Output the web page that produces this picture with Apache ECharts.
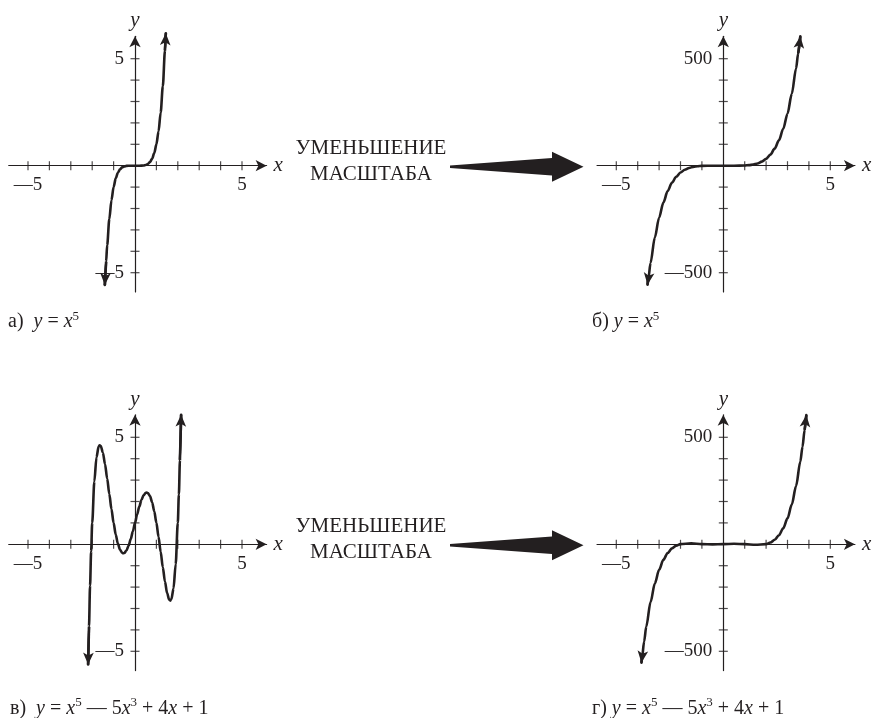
<!DOCTYPE html>
<html>
<head>
<meta charset="utf-8">
<title>Уменьшение масштаба</title>
<script src="https://cdn.jsdelivr.net/npm/echarts@6/dist/echarts.min.js"></script>
<style>
  html, body { margin: 0; padding: 0; background: #ffffff; }
  #chart { width: 875px; height: 718px; }
</style>
</head>
<body>
<div id="chart"></div>
<script>
// ---- data -------------------------------------------------------------
// tick positions and labelled ticks
const xTicks = [-5, -4, -3, -2, -1, 1, 2, 3, 4, 5];
const yTicksSmall = [-5, -4, -3, -2, -1, 1, 2, 3, 4, 5];
const yTicksLarge = [-500, -400, -300, -200, -100, 100, 200, 300, 400, 500];
const xLabels = [-5, 5];
const yLabelsSmall = [-5, 5];
const yLabelsLarge = [-500, 500];

// а) y = x^5, window [-5, 5]
const xA = [-1.41, -1.35, -1.3, -1.2, -1.1, -1.0, -0.9, -0.8, -0.7, -0.6, -0.5, -0.4, -0.2, 0,
            0.2, 0.4, 0.5, 0.6, 0.7, 0.8, 0.9, 1.0, 1.1, 1.2, 1.3, 1.4, 1.44];
const yA = [-5.573, -4.484, -3.713, -2.488, -1.611, -1, -0.590, -0.328, -0.168, -0.078, -0.031, -0.010, 0, 0,
            0, 0.010, 0.031, 0.078, 0.168, 0.328, 0.590, 1, 1.611, 2.488, 3.713, 5.378, 6.192];

// б) y = x^5, window [-500, 500]
const xB = [-3.54, -3.5, -3.4, -3.2, -3.0, -2.8, -2.6, -2.4, -2.2, -2.0, -1.8, -1.6, -1.4, -1.2, -1.0, -0.5, 0,
            0.5, 1.0, 1.2, 1.4, 1.6, 1.8, 2.0, 2.2, 2.4, 2.6, 2.8, 3.0, 3.2, 3.4, 3.5, 3.6];
const yB = [-555.93, -525.22, -454.35, -335.54, -243, -172.10, -118.81, -79.63, -51.54, -32, -18.90, -10.49, -5.38, -2.49, -1, -0.03, 0,
            0.03, 1, 2.49, 5.38, 10.49, 18.90, 32, 51.54, 79.63, 118.81, 172.10, 243, 335.54, 454.35, 525.22, 604.66];

// в) y = x^5 - 5x^3 + 4x + 1, window [-5, 5]
const xC = [-2.19, -2.15, -2.1, -2.05, -2.0, -1.9, -1.8, -1.7, -1.65, -1.6, -1.5, -1.4, -1.3, -1.2, -1.1,
            -1.0, -0.9, -0.8, -0.7, -0.6, -0.55, -0.5, -0.4, -0.3, -0.2, -0.1, 0, 0.1, 0.2, 0.3,
            0.4, 0.5, 0.55, 0.6, 0.7, 0.8, 0.9, 1.0, 1.1, 1.2, 1.3, 1.4, 1.5, 1.6, 1.65,
            1.7, 1.8, 1.9, 2.0, 2.05, 2.1, 2.155];
const yC = [-5.618, -3.848, -1.936, -0.329, 1, 2.934, 4.064, 4.566, 4.631, 4.594, 4.281, 3.742, 3.072, 2.352, 1.644,
            1, 0.455, 0.032, -0.253, -0.398, -0.418, -0.406, -0.290, -0.067, 0.240, 0.605, 1, 1.395, 1.760, 2.067,
            2.290, 2.406, 2.418, 2.398, 2.253, 1.968, 1.545, 1, 0.356, -0.352, -1.072, -1.742, -2.281, -2.594, -2.631,
            -2.566, -2.064, -0.934, 1, 2.329, 3.936, 6.057];

// г) y = x^5 - 5x^3 + 4x + 1, window [-500, 500]
const xD = [-3.825, -3.8, -3.7, -3.6, -3.4, -3.2, -3.0, -2.8, -2.6, -2.4, -2.2, -2.0, -1.5, -1.0, -0.5, 0,
            0.5, 1.0, 1.5, 2.0, 2.2, 2.4, 2.6, 2.8, 3.0, 3.2, 3.4, 3.6, 3.7, 3.8, 3.88];
const yD = [-553.25, -532.19, -453.97, -384.78, -270.43, -183.50, -119, -72.54, -40.33, -19.11, -6.10, 1, 4.28, 1, -0.41, 1,
            2.41, 1, -2.28, 1, 8.10, 21.11, 42.33, 74.54, 121, 185.50, 272.43, 386.78, 455.97, 534.19, 603.81];

const captions = ['а)', 'б)', 'в)', 'г)'];
const formulaShort = '{i|y} = {i|x}{s|5}';
const formulaLong = '{i|y} = {i|x}{s|5} — 5{i|x}{s|3} + 4{i|x} + 1';
const zoomText = ['УМЕНЬШЕНИЕ', 'МАСШТАБА'];

// ---- styling ------------------------------------------------------------
const INK = '#231f20';
const SERIF = '"Liberation Serif", "DejaVu Serif", serif';
const UNIT = 21.4;                 // pixels per axis unit
const X_MIN = -5.9, X_MAX = 6.15;
const Y_MIN = -5.9, Y_MAX = 6.05;
const ROW_SHIFT = 378.6;

const panels = [
  { ox: 135,   oy: 165.7,             k: 1,   xs: xA, ys: yA, yTicks: yTicksSmall, yLabels: yLabelsSmall },
  { ox: 723.3, oy: 165.7,             k: 100, xs: xB, ys: yB, yTicks: yTicksLarge, yLabels: yLabelsLarge },
  { ox: 135,   oy: 165.7 + ROW_SHIFT, k: 1,   xs: xC, ys: yC, yTicks: yTicksSmall, yLabels: yLabelsSmall },
  { ox: 723.3, oy: 165.7 + ROW_SHIFT, k: 100, xs: xD, ys: yD, yTicks: yTicksLarge, yLabels: yLabelsLarge }
];

const fmt = v => (v < 0 ? '—' + Math.abs(v) : String(v));
const labelFont = { fontFamily: SERIF, fontSize: 19, color: INK };
const nameFont = { fontFamily: SERIF, fontSize: 21, fontStyle: 'italic', color: INK };

const grids = [], xAxes = [], yAxes = [], series = [];

panels.forEach((p, i) => {
  grids.push({
    left: p.ox + X_MIN * UNIT,
    top: p.oy - Y_MAX * UNIT,
    width: (X_MAX - X_MIN) * UNIT,
    height: (Y_MAX - Y_MIN) * UNIT,
    containLabel: false,
    outerBoundsMode: 'none'
  });
  // each axis sits on the other one's zero
  xAxes.push({
    type: 'value', gridIndex: i, min: X_MIN, max: X_MAX,
    position: 'bottom', offset: Y_MIN * UNIT,
    name: 'x', nameLocation: 'end', nameGap: 7, nameMoveOverlap: false,
    nameTextStyle: Object.assign({ verticalAlign: 'middle', align: 'left' }, nameFont),
    axisLine: { show: true, onZero: false, symbol: ['none', 'arrow'], symbolSize: [8.5, 11],
                lineStyle: { color: INK, width: 1.2 } },
    axisTick: { show: false }, splitLine: { show: false },
    axisLabel: Object.assign({ customValues: xLabels, formatter: fmt, margin: 10 }, labelFont)
  });
  yAxes.push({
    type: 'value', gridIndex: i, min: Y_MIN * p.k, max: Y_MAX * p.k,
    position: 'left', offset: X_MIN * UNIT,
    name: 'y', nameLocation: 'end', nameGap: 5, nameMoveOverlap: false,
    nameTextStyle: Object.assign({ align: 'center', verticalAlign: 'bottom' }, nameFont),
    axisLine: { show: true, onZero: false, symbol: ['none', 'arrow'], symbolSize: [8.5, 11],
                lineStyle: { color: INK, width: 1.2 } },
    axisTick: { show: false }, splitLine: { show: false },
    axisLabel: Object.assign({ customValues: p.yLabels, formatter: fmt, margin: 11 }, labelFont)
  });

  // tick marks crossing the axes
  series.push({
    type: 'scatter', xAxisIndex: i, yAxisIndex: i, silent: true, clip: false, z: 3,
    symbol: 'rect', symbolSize: [1.2, 9], itemStyle: { color: INK },
    data: xTicks.map(v => [v, 0])
  });
  series.push({
    type: 'scatter', xAxisIndex: i, yAxisIndex: i, silent: true, clip: false, z: 3,
    symbol: 'rect', symbolSize: [9, 1.2], itemStyle: { color: INK },
    data: p.yTicks.map(v => [0, v])
  });

  // the curve
  const pts = p.xs.map((x, j) => [x, p.ys[j]]);
  series.push({
    type: 'line', xAxisIndex: i, yAxisIndex: i, silent: true, clip: false, z: 5,
    smooth: 0.3, smoothMonotone: 'x', showSymbol: false, symbol: 'none',
    lineStyle: { color: INK, width: 2.6, cap: 'round', join: 'round' },
    data: pts
  });

  // arrowheads at both ends of the curve
  const n = pts.length;
  series.push({
    type: 'lines', coordinateSystem: 'cartesian2d', xAxisIndex: i, yAxisIndex: i,
    silent: true, clip: false, z: 6,
    symbol: ['none', 'arrow'], symbolSize: [[8, 12], [8, 12]],
    lineStyle: { color: INK, width: 2.6, opacity: 1 },
    itemStyle: { color: INK },
    data: [
      { coords: [pts[1], pts[0]] },
      { coords: [pts[n - 2], pts[n - 1]] }
    ]
  });
});

// ---- annotations ------------------------------------------------------
const graphics = [];
const capRich = {
  i: { fontFamily: SERIF, fontSize: 20, fontStyle: 'italic', lineHeight: 24, fill: INK },
  s: { fontFamily: SERIF, fontSize: 13, lineHeight: 13, verticalAlign: 'top', fill: INK },
  t: { fontFamily: SERIF, fontSize: 20, lineHeight: 24, fill: INK }
};
const capPos = [[8, 322], [592, 322], [10, 708.5], [592, 708.5]];
captions.forEach((c, i) => {
  const body = i < 2 ? formulaShort : formulaLong;
  const gap = (i === 0 || i === 2) ? '  ' : ' ';
  graphics.push({
    type: 'text', x: capPos[i][0], y: capPos[i][1], silent: true,
    style: {
      text: '{t|' + c + '}' + gap + body,
      rich: capRich, fill: INK,
      font: '20px ' + SERIF, lineHeight: 24,
      align: 'left', verticalAlign: 'middle'
    }
  });
});

[0, ROW_SHIFT].forEach(dy => {
  zoomText.forEach((t, j) => {
    graphics.push({
      type: 'text', x: 371, y: 148 + j * 26 + dy, silent: true,
      style: { text: t, fill: INK, font: '21px ' + SERIF, align: 'center', verticalAlign: 'middle' }
    });
  });
  const cy = 166.7 + dy;
  graphics.push({
    type: 'polygon', silent: true,
    shape: { points: [[450, cy - 1.3], [552, cy - 8.7], [552, cy - 15], [583.5, cy],
                      [552, cy + 15], [552, cy + 8.7], [450, cy + 1.3]] },
    style: { fill: INK }
  });
});

const chart = echarts.init(document.getElementById('chart'), null, { renderer: 'canvas' });
chart.setOption({
  animation: false,
  backgroundColor: '#ffffff',
  grid: grids,
  xAxis: xAxes,
  yAxis: yAxes,
  series: series,
  graphic: graphics
});
</script>
</body>
</html>
